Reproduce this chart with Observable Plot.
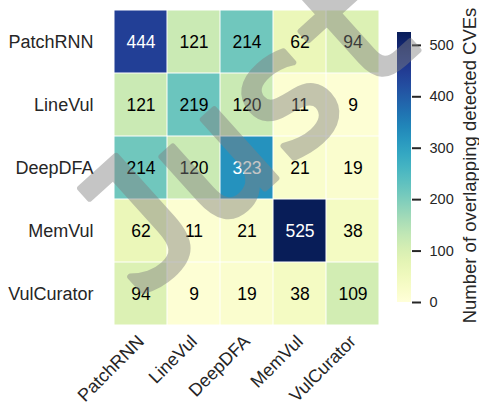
<!DOCTYPE html>
<html>
<head>
<meta charset="utf-8">
<script src="https://cdn.jsdelivr.net/npm/d3@7"></script>
<script src="https://cdn.jsdelivr.net/npm/@observablehq/plot@0.6"></script>
<style>
  html, body { margin: 0; padding: 0; background: white; }
  #wrap { position: relative; width: 479px; height: 414px; overflow: hidden; }
  #wrap > svg, #wrap > .layer { position: absolute; left: 0; top: 0; }
</style>
</head>
<body>
<div id="wrap"></div>
<script>
const models = ["PatchRNN", "LineVul", "DeepDFA", "MemVul", "VulCurator"];
const overlap = [
  [444, 121, 214, 62, 94],
  [121, 219, 120, 11, 9],
  [214, 120, 323, 21, 19],
  [62, 11, 21, 525, 38],
  [94, 9, 19, 38, 109]
];
const colorDomain = [0, 525];
const colorTicks = [0, 100, 200, 300, 400, 500];
const colorLabel = "Number of overlapping detected CVEs";
const watermark = "Just";

const cells = [];
models.forEach((r, i) => models.forEach((c, j) => cells.push({row: r, col: c, value: overlap[i][j]})));

const font = "'Liberation Sans', Arial, sans-serif";
const wrap = document.getElementById("wrap");

const heat = Plot.plot({
  width: 479, height: 414,
  marginLeft: 113, marginRight: 99, marginTop: 8, marginBottom: 88,
  style: {fontFamily: font, fontSize: "18px", color: "#262626", background: "transparent"},
  x: {domain: models, padding: 0, label: null},
  y: {domain: models, padding: 0, label: null},
  color: {type: "linear", scheme: "YlGnBu", domain: colorDomain},
  marks: [
    Plot.cell(cells, {x: "col", y: "row", fill: "value", inset: 0.5}),
    Plot.text(cells, {x: "col", y: "row", text: d => String(d.value), fill: d => d.value > 300 ? "white" : "black", fontSize: 17.5}),
    Plot.axisX({tickSize: 0, tickRotate: -45, tickPadding: 12, fontSize: 18, label: null}),
    Plot.axisY({tickSize: 0, tickPadding: 20, fontSize: 18, label: null})
  ]
});
wrap.appendChild(heat);

const bar = Plot.plot({
  width: 479, height: 414,
  marginLeft: 397, marginRight: 68, marginTop: 32, marginBottom: 112,
  style: {fontFamily: font, fontSize: "14px", color: "#262626", background: "transparent"},
  x: {domain: [0, 1], axis: null},
  y: {domain: colorDomain, label: null},
  marks: [
    Plot.rect([colorDomain], {x1: () => 0, x2: () => 1, y1: d => d[0], y2: d => d[1], fill: "url(#cbgrad)"}),
    Plot.axisY({anchor: "right", ticks: colorTicks, tickSize: 9, tickPadding: 9, strokeWidth: 2, fontSize: 14.5, label: null}),
    Plot.text([colorLabel], {frameAnchor: "right", textAnchor: "middle", rotate: -90, dx: 59, dy: -2, fontSize: 18.5, fill: "#262626"})
  ]
});
const ns = "http://www.w3.org/2000/svg";
const defs = document.createElementNS(ns, "defs");
const grad = document.createElementNS(ns, "linearGradient");
grad.setAttribute("id", "cbgrad");
grad.setAttribute("x1", "0"); grad.setAttribute("y1", "1");
grad.setAttribute("x2", "0"); grad.setAttribute("y2", "0");
for (let k = 0; k <= 20; k++) {
  const s = document.createElementNS(ns, "stop");
  s.setAttribute("offset", k / 20);
  s.setAttribute("stop-color", d3.interpolateYlGnBu(k / 20));
  grad.appendChild(s);
}
defs.appendChild(grad);
bar.insertBefore(defs, bar.firstChild);
wrap.appendChild(bar);

// watermark overlay
const wm = document.createElementNS(ns, "svg");
wm.setAttribute("width", 479); wm.setAttribute("height", 414);
wm.setAttribute("class", "layer");
const t = document.createElementNS(ns, "text");
t.setAttribute("x", 140); t.setAttribute("y", 301);
t.setAttribute("transform", "rotate(-42 140 301)");
t.setAttribute("font-family", "'DejaVu Sans Mono', monospace");
t.setAttribute("font-size", 170);
t.setAttribute("letter-spacing", -6);
t.setAttribute("fill", "rgb(128,128,128)");
t.setAttribute("stroke", "rgb(128,128,128)");
t.setAttribute("stroke-width", 6);
t.setAttribute("stroke-linejoin", "round");
t.setAttribute("opacity", 0.45);
t.textContent = watermark;
wm.appendChild(t);
wrap.appendChild(wm);
</script>
</body>
</html>
